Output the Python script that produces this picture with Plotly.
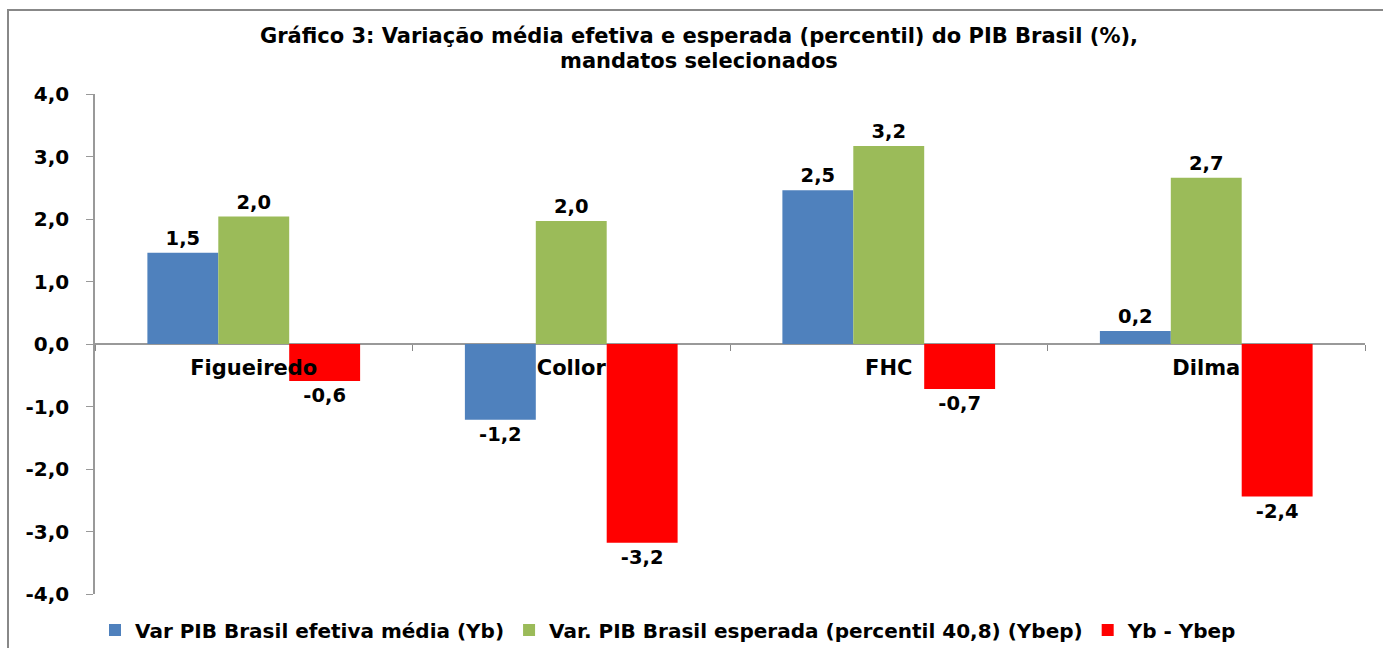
"""Gráfico 3: variação média efetiva e esperada do PIB Brasil por mandato"""

import plotly.graph_objects as go

# ── Dados ─────────────────────────────────────────────────────────────

mandatos = ["Figueiredo", "Collor", "FHC", "Dilma"]
yb_efetiva = [1.46, -1.21, 2.46, 0.21]
ybep_esperada = [2.04, 1.97, 3.17, 2.66]
yb_menos_ybep = [-0.59, -3.18, -0.72, -2.44]

nomes = [
    "Var PIB Brasil efetiva média (Yb)",
    "Var. PIB Brasil esperada (percentil 40,8) (Ybep)",
    "Yb - Ybep",
]
cores = ["#4F81BD", "#9BBB59", "#FF0000"]
y_ticks = [-4, -3, -2, -1, 0, 1, 2, 3, 4]
y_ticktext = ["-4,0", "-3,0", "-2,0", "-1,0", "0,0", "1,0", "2,0", "3,0", "4,0"]

titulo_1 = "Gráfico 3: Variação média efetiva e esperada (percentil) do PIB Brasil (%),"
titulo_2 = "mandatos selecionados"

FONT = "DejaVu Sans"

fig = go.Figure()
for nome, serie, cor in zip(nomes, [yb_efetiva, ybep_esperada, yb_menos_ybep], cores):
    fig.add_trace(go.Bar(
        x=mandatos, y=serie, name=nome,
        marker=dict(color=cor, line=dict(width=0)),
        texttemplate="%{y:.1f}", textposition="outside",
        textfont=dict(family=FONT, size=19.5, color="#000", weight="bold"),
        cliponaxis=False,
    ))

fig.update_layout(
    width=1383, height=648,
    separators=",.",
    barmode="group", bargap=0.33, bargroupgap=0,
    paper_bgcolor="white", plot_bgcolor="white",
    margin=dict(l=95, r=18, t=94, b=54),
    font=dict(family=FONT, color="#000"),
    # título em duas linhas com espaçamento controlado
    title=dict(
        text=titulo_1, xref="container", yref="container",
        x=0.5054, xanchor="center", y=0.9445, yanchor="middle",
        font=dict(family=FONT, size=21, color="#000", weight="bold"),
    ),
    annotations=[dict(
        text=titulo_2, xref="paper", yref="paper",
        x=0.4756, xanchor="center", y=1.066, yanchor="middle",
        showarrow=False,
        font=dict(family=FONT, size=21, color="#000", weight="bold"),
    )],
    legend=dict(
        orientation="h", x=0.0, xanchor="left",
        yref="container", y=0.0278, yanchor="middle",
        font=dict(family=FONT, size=20, color="#000", weight="bold"),
        itemwidth=30, traceorder="normal",
    ),
    xaxis=dict(
        anchor="free", position=0.5, automargin=False,
        showline=False, ticks="outside", tickson="boundaries",
        ticklen=6, tickcolor="#888", ticklabelstandoff=9,
        tickfont=dict(family=FONT, size=21, color="#000", weight="bold"),
    ),
    yaxis=dict(
        range=[-4, 4], tickvals=y_ticks, ticktext=y_ticktext, automargin=False,
        showgrid=False, zeroline=True, zerolinecolor="#999", zerolinewidth=1.5,
        showline=True, linecolor="#999", linewidth=1.5,
        ticks="outside", ticklen=7, tickcolor="#999", ticklabelstandoff=13,
        tickfont=dict(family=FONT, size=20, color="#000", weight="bold"),
    ),
    shapes=[dict(
        type="rect", xref="paper", yref="paper",
        x0=-0.0685, x1=1.02, y0=-0.13, y1=1.168,
        line=dict(color="#888", width=2), fillcolor="rgba(0,0,0,0)",
    )],
)

fig.write_html("out.html", config={"displayModeBar": False},
               post_script="document.body.style.margin='0';")
